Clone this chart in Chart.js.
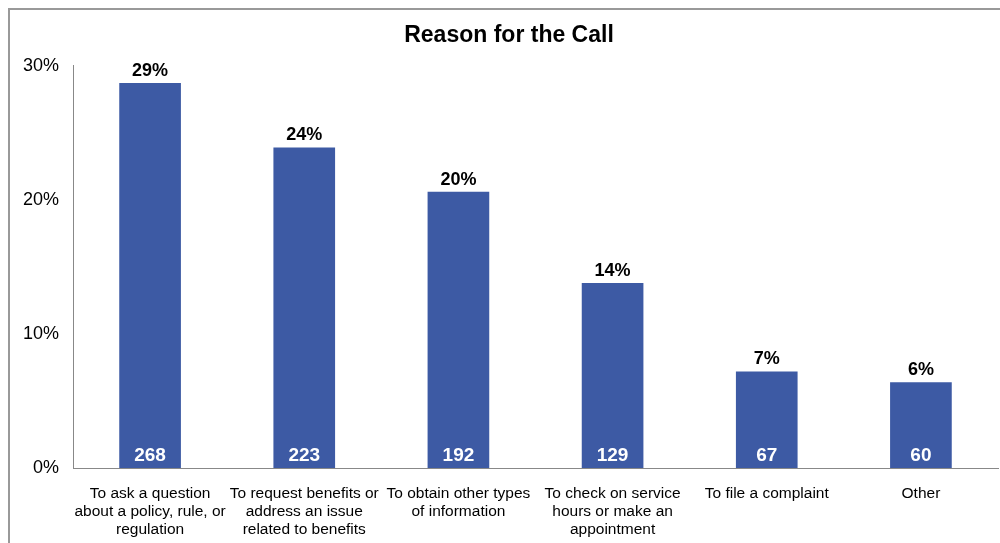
<!DOCTYPE html>
<html>
<head>
<meta charset="utf-8">
<script src="https://cdn.jsdelivr.net/npm/chart.js@4.4.0/dist/chart.umd.min.js"></script>
<style>
    body { margin: 0; background: #fff; }
    #wrap { position: relative; width: 1000px; height: 543px; }
    #frame { position: absolute; left: 8px; top: 8px; right: 0; bottom: 0;
             border-top: 2px solid #999; border-left: 2px solid #999; }
    #reasonChart { position: absolute; left: 0; top: 0; }
</style>
</head>
<body>
<div id="wrap">
    <div id="frame"></div>
    <canvas id="reasonChart" width="1000" height="543"></canvas>
</div>
<script>
let reasonLabels = [
    ["To ask a question", "about a policy, rule, or", "regulation"],
    ["To request benefits or", "address an issue", "related to benefits"],
    ["To obtain other types", "of information"],
    ["To check on service", "hours or make an", "appointment"],
    ["To file a complaint"],
    ["Other"]
];
let reasonPercent = [28.7, 23.9, 20.6, 13.8, 7.2, 6.4];
let percentText = ["29%", "24%", "20%", "14%", "7%", "6%"];
let callCounts = [268, 223, 192, 129, 67, 60];
let yTicks = [0, 10, 20, 30];

// draws the % above each bar and the count inside at the bottom
const barLabels = {
    id: 'barLabels',
    afterDatasetsDraw(chart) {
        const ctx = chart.ctx;
        const meta = chart.getDatasetMeta(0);
        const bottom = chart.scales.y.getPixelForValue(0);
        ctx.save();
        ctx.textAlign = 'center';
        ctx.textBaseline = 'middle';
        meta.data.forEach(function (bar, i) {
            ctx.font = 'bold 18px "Liberation Sans", Arial, sans-serif';
            ctx.fillStyle = '#000';
            ctx.fillText(percentText[i], bar.x, bar.y - 12);
            ctx.font = 'bold 19px "Liberation Sans", Arial, sans-serif';
            ctx.fillStyle = '#fff';
            ctx.fillText(callCounts[i], bar.x, bottom - 12);
        });
        ctx.restore();
    }
};

new Chart(document.getElementById('reasonChart'), {
    type: 'bar',
    data: {
        labels: reasonLabels,
        datasets: [{
            data: reasonPercent,
            backgroundColor: '#3D5AA4',
            borderWidth: 0,
            barPercentage: 0.4,
            categoryPercentage: 1.0
        }]
    },
    options: {
        responsive: false,
        animation: false,
        layout: { padding: { left: 20, right: 2, top: 0, bottom: 0 } },
        plugins: {
            legend: { display: false },
            tooltip: { enabled: false },
            title: {
                display: true,
                text: 'Reason for the Call',
                color: '#000',
                font: { family: '"Liberation Sans", Arial, sans-serif', size: 23, weight: 'bold' },
                padding: { top: 22, bottom: 16 }
            }
        },
        scales: {
            x: {
                grid: { display: false, drawTicks: false },
                border: { display: true, color: '#888', width: 1 },
                ticks: {
                    color: '#000',
                    maxRotation: 0,
                    autoSkip: false,
                    padding: 17,
                    font: { family: '"Liberation Sans", Arial, sans-serif', size: 15.5, lineHeight: 1.15 }
                },
                afterFit: function (scale) { scale.height = 75; }
            },
            y: {
                min: 0,
                max: 30,
                grid: { display: false, drawTicks: false },
                border: { display: true, color: '#888', width: 1 },
                afterBuildTicks: function (scale) {
                    scale.ticks = yTicks.map(function (v) { return { value: v }; });
                },
                ticks: {
                    color: '#000',
                    padding: 14,
                    font: { family: '"Liberation Sans", Arial, sans-serif', size: 18 },
                    callback: function (v) { return v + '%'; }
                },
                afterFit: function (scale) { scale.width = 53; }
            }
        }
    },
    plugins: [barLabels]
});
</script>
</body>
</html>
